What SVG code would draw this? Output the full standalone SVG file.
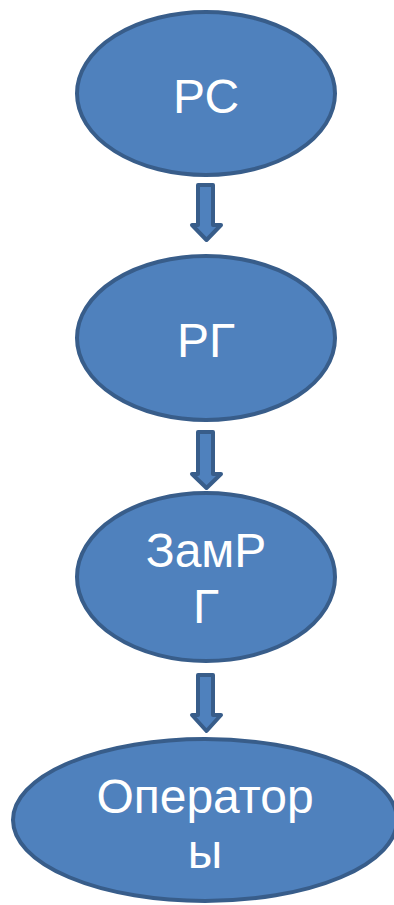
<svg xmlns="http://www.w3.org/2000/svg" width="394" height="905" viewBox="0 0 394 905">
<style>
.node{fill:#4F81BD;stroke:#385D8A;stroke-width:4}
.arrow{fill:#4F81BD;stroke:#385D8A;stroke-width:4;stroke-linejoin:round}
.label{font-family:"Liberation Sans",Arial,sans-serif;font-size:48px;fill:#FFFFFF;text-anchor:middle}
</style>
<rect width="394" height="905" fill="#FFFFFF"/>
<g id="connectors">
<path class="arrow" d="M198,185 H213 V225 H221 L206.5,240 L192,225 H198 Z"/>
<path class="arrow" d="M198,432 H213 V474 H221 L206.5,488 L192,474 H198 Z"/>
<path class="arrow" d="M198,675 H213 V715 H221 L206.5,731 L192,715 H198 Z"/>
</g>
<g id="node-rs">
<ellipse class="node" cx="206" cy="93.5" rx="129" ry="81.5"/>
<text class="label" x="206" y="113">РС</text>
</g>
<g id="node-rg">
<ellipse class="node" cx="206" cy="338" rx="129" ry="82"/>
<text class="label" x="206" y="357">РГ</text>
</g>
<g id="node-zamrg">
<ellipse class="node" cx="206" cy="577" rx="129" ry="84"/>
<text class="label" x="206" y="567">ЗамР</text>
<text class="label" x="206" y="623">Г</text>
</g>
<g id="node-operatory">
<ellipse class="node" cx="205" cy="820" rx="192" ry="81"/>
<text class="label" x="205" y="813">Оператор</text>
<text class="label" x="205" y="868">ы</text>
</g>
</svg>
